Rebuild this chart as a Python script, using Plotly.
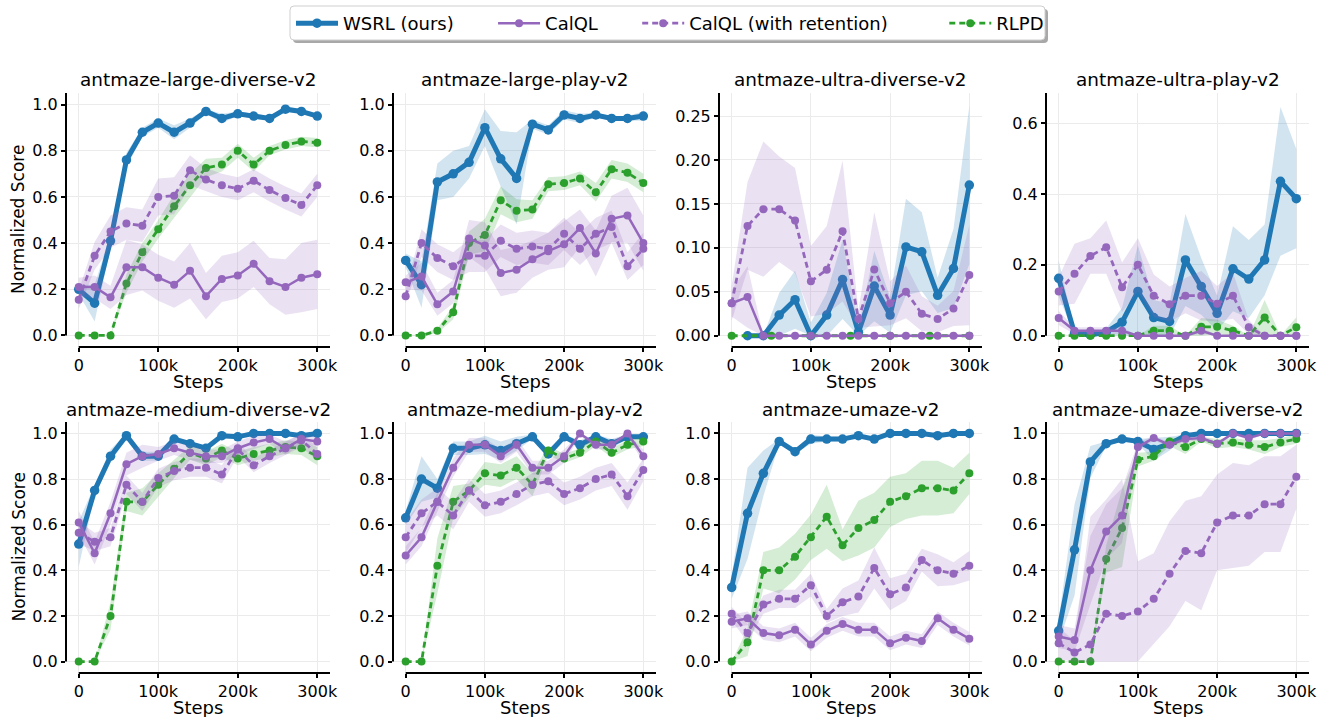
import plotly.graph_objects as go

# ---------------- data ----------------
STEPS = [0, 20000, 40000, 60000, 80000, 100000, 120000, 140000,
         160000, 180000, 200000, 220000, 240000, 260000, 280000, 300000]
RLPD_STEPS_ULTRA_DIVERSE = [0, 50000, 100000, 150000, 200000, 250000, 300000]

ENVS = ["antmaze-large-diverse-v2", "antmaze-large-play-v2",
        "antmaze-ultra-diverse-v2", "antmaze-ultra-play-v2",
        "antmaze-medium-diverse-v2", "antmaze-medium-play-v2",
        "antmaze-umaze-v2", "antmaze-umaze-diverse-v2"]

X_TICKS = [0, 100000, 200000, 300000]
X_TICK_LABELS = ["0", "100k", "200k", "300k"]
Y_TICKS_UNIT = [0.0, 0.2, 0.4, 0.6, 0.8, 1.0]
Y_TICKS_ULTRA_DIVERSE = [0.0, 0.05, 0.10, 0.15, 0.20, 0.25]
Y_TICKS_ULTRA_PLAY = [0.0, 0.2, 0.4, 0.6]

SERIES = ["WSRL (ours)", "CalQL", "CalQL (with retention)", "RLPD"]

# antmaze-large-diverse-v2
large_diverse_wsrl = [0.20, 0.14, 0.41, 0.76, 0.88, 0.92, 0.88, 0.92, 0.97, 0.94, 0.96, 0.95, 0.94, 0.98, 0.97, 0.95]
large_diverse_wsrl_sd = [0.02, 0.08, 0.03, 0.03, 0.02, 0.02, 0.03, 0.02, 0.01, 0.02, 0.01, 0.01, 0.01, 0.01, 0.01, 0.01]
large_diverse_calql = [0.21, 0.21, 0.165, 0.295, 0.295, 0.25, 0.22, 0.28, 0.17, 0.245, 0.26, 0.31, 0.235, 0.21, 0.25, 0.265]
large_diverse_calql_sd = [0.04, 0.05, 0.05, 0.12, 0.10, 0.10, 0.10, 0.12, 0.10, 0.10, 0.10, 0.10, 0.10, 0.12, 0.15, 0.15]
large_diverse_ret = [0.155, 0.345, 0.45, 0.485, 0.475, 0.60, 0.605, 0.715, 0.675, 0.65, 0.635, 0.67, 0.63, 0.595, 0.565, 0.65]
large_diverse_ret_sd = [0.04, 0.06, 0.07, 0.07, 0.07, 0.08, 0.08, 0.065, 0.05, 0.05, 0.05, 0.05, 0.05, 0.05, 0.05, 0.05]
large_diverse_rlpd = [0.0, 0.0, 0.0, 0.225, 0.36, 0.46, 0.56, 0.65, 0.725, 0.74, 0.80, 0.74, 0.80, 0.825, 0.84, 0.835]
large_diverse_rlpd_sd = [0.0, 0.0, 0.0, 0.04, 0.04, 0.04, 0.05, 0.05, 0.04, 0.03, 0.03, 0.03, 0.02, 0.02, 0.02, 0.02]

# antmaze-large-play-v2
large_play_wsrl = [0.325, 0.22, 0.665, 0.70, 0.75, 0.90, 0.765, 0.68, 0.915, 0.89, 0.955, 0.94, 0.955, 0.94, 0.94, 0.95]
large_play_wsrl_sd = [0.03, 0.10, 0.08, 0.10, 0.07, 0.08, 0.12, 0.20, 0.02, 0.02, 0.02, 0.02, 0.01, 0.01, 0.01, 0.02]
large_play_calql = [0.23, 0.255, 0.135, 0.19, 0.42, 0.39, 0.27, 0.285, 0.33, 0.365, 0.395, 0.465, 0.355, 0.505, 0.52, 0.40]
large_play_calql_sd = [0.03, 0.06, 0.05, 0.05, 0.08, 0.10, 0.10, 0.10, 0.08, 0.08, 0.10, 0.08, 0.10, 0.10, 0.12, 0.12]
large_play_ret = [0.17, 0.40, 0.335, 0.30, 0.345, 0.345, 0.41, 0.375, 0.385, 0.375, 0.44, 0.375, 0.44, 0.47, 0.30, 0.375]
large_play_ret_sd = [0.03, 0.06, 0.06, 0.06, 0.07, 0.07, 0.07, 0.07, 0.07, 0.07, 0.07, 0.07, 0.07, 0.07, 0.06, 0.07]
large_play_rlpd = [0.0, 0.0, 0.02, 0.10, 0.40, 0.435, 0.585, 0.54, 0.545, 0.655, 0.66, 0.68, 0.62, 0.72, 0.705, 0.66]
large_play_rlpd_sd = [0.0, 0.005, 0.01, 0.03, 0.05, 0.07, 0.06, 0.05, 0.04, 0.03, 0.03, 0.03, 0.04, 0.04, 0.04, 0.04]

# antmaze-ultra-diverse-v2
ultra_diverse_wsrl = [None, 0.0, 0.0, 0.0235, 0.041, 0.0, 0.0235, 0.064, 0.004, 0.0565, 0.0235, 0.101, 0.0955, 0.046, 0.0765, 0.1715]
ultra_diverse_wsrl_sd = [None, 0.0, 0.0, 0.025, 0.033, 0.015, 0.025, 0.045, 0.005, 0.04, 0.02, 0.055, 0.045, 0.02, 0.045, 0.09]
ultra_diverse_calql = [0.037, 0.044, 0.0, 0.0, 0.0, 0.0, 0.0, 0.0, 0.0, 0.0, 0.0, 0.0, 0.0, 0.0, 0.0, 0.0]
ultra_diverse_calql_sd = [0.015, 0.035, 0.0, 0.0, 0.0, 0.0, 0.0, 0.0, 0.0, 0.0, 0.0, 0.0, 0.0, 0.0, 0.0, 0.0]
ultra_diverse_ret = [0.037, 0.125, 0.144, 0.144, 0.131, 0.062, 0.075, 0.119, 0.019, 0.0755, 0.037, 0.05, 0.025, 0.019, 0.031, 0.069]
ultra_diverse_ret_sd = [0.02, 0.05, 0.077, 0.06, 0.06, 0.04, 0.05, 0.08, 0.01, 0.065, 0.025, 0.03, 0.02, 0.015, 0.02, 0.057]
ultra_diverse_rlpd = [0.0, 0.0, 0.0, 0.0, 0.0, 0.0, 0.0]
ultra_diverse_rlpd_sd = [0.0, 0.0, 0.0, 0.0, 0.0, 0.0, 0.0]

# antmaze-ultra-play-v2
ultra_play_wsrl = [0.162, 0.007, 0.002, 0.01, 0.038, 0.125, 0.051, 0.04, 0.214, 0.139, 0.063, 0.189, 0.16, 0.214, 0.436, 0.387]
ultra_play_wsrl_sd = [0.05, 0.01, 0.005, 0.01, 0.04, 0.13, 0.05, 0.05, 0.13, 0.08, 0.05, 0.12, 0.11, 0.10, 0.21, 0.14]
ultra_play_calql = [0.05, 0.014, 0.014, 0.014, 0.014, 0.0, 0.0, 0.0, 0.0, 0.014, 0.0, 0.0, 0.0, 0.0, 0.0, 0.0]
ultra_play_calql_sd = [0.02, 0.01, 0.01, 0.01, 0.01, 0.0, 0.0, 0.0, 0.0, 0.01, 0.0, 0.0, 0.0, 0.0, 0.0, 0.0]
ultra_play_ret = [0.125, 0.175, 0.225, 0.25, 0.137, 0.20, 0.113, 0.089, 0.113, 0.113, 0.09, 0.113, 0.024, 0.0, 0.0, 0.0]
ultra_play_ret_sd = [0.04, 0.085, 0.05, 0.075, 0.07, 0.075, 0.06, 0.05, 0.05, 0.07, 0.05, 0.065, 0.02, 0.0, 0.0, 0.0]
ultra_play_rlpd = [0.0, 0.0, 0.0, 0.0, 0.0, 0.0, 0.014, 0.014, 0.0, 0.025, 0.025, 0.014, 0.0, 0.051, 0.0, 0.024]
ultra_play_rlpd_sd = [0.0, 0.0, 0.0, 0.0, 0.0, 0.0, 0.014, 0.014, 0.0, 0.025, 0.02, 0.014, 0.0, 0.05, 0.0, 0.028]

# antmaze-medium-diverse-v2
medium_diverse_wsrl = [0.515, 0.75, 0.90, 0.99, 0.90, 0.90, 0.975, 0.955, 0.935, 0.99, 0.985, 1.0, 1.0, 1.0, 0.99, 1.0]
medium_diverse_wsrl_sd = [0.10, 0.02, 0.03, 0.01, 0.02, 0.02, 0.01, 0.01, 0.01, 0.01, 0.01, 0.005, 0.005, 0.005, 0.01, 0.005]
medium_diverse_calql = [0.61, 0.475, 0.65, 0.865, 0.90, 0.91, 0.935, 0.915, 0.90, 0.90, 0.935, 0.96, 0.975, 0.935, 0.975, 0.965]
medium_diverse_calql_sd = [0.05, 0.05, 0.05, 0.05, 0.05, 0.03, 0.03, 0.03, 0.03, 0.03, 0.03, 0.03, 0.02, 0.03, 0.02, 0.02]
medium_diverse_ret = [0.565, 0.525, 0.545, 0.775, 0.70, 0.805, 0.835, 0.85, 0.85, 0.82, 0.93, 0.86, 0.90, 0.935, 0.97, 0.91]
medium_diverse_ret_sd = [0.05, 0.04, 0.04, 0.04, 0.04, 0.04, 0.04, 0.04, 0.04, 0.04, 0.03, 0.03, 0.03, 0.03, 0.03, 0.03]
medium_diverse_rlpd = [0.0, 0.0, 0.20, 0.70, 0.70, 0.775, 0.845, 0.915, 0.89, 0.925, 0.89, 0.91, 0.925, 0.94, 0.935, 0.90]
medium_diverse_rlpd_sd = [0.0, 0.0, 0.06, 0.04, 0.06, 0.05, 0.04, 0.03, 0.03, 0.03, 0.03, 0.03, 0.03, 0.03, 0.03, 0.04]

# antmaze-medium-play-v2
medium_play_wsrl = [0.63, 0.80, 0.76, 0.935, 0.935, 0.95, 0.925, 0.955, 0.985, 0.91, 0.985, 0.95, 0.985, 0.955, 0.985, 0.985]
medium_play_wsrl_sd = [0.03, 0.10, 0.04, 0.03, 0.03, 0.04, 0.04, 0.03, 0.01, 0.02, 0.01, 0.02, 0.01, 0.02, 0.01, 0.01]
medium_play_calql = [0.465, 0.545, 0.70, 0.85, 0.95, 0.95, 0.90, 0.95, 0.85, 0.85, 0.90, 1.0, 0.95, 0.95, 1.0, 0.90]
medium_play_calql_sd = [0.04, 0.04, 0.04, 0.04, 0.03, 0.03, 0.03, 0.03, 0.03, 0.03, 0.03, 0.01, 0.02, 0.02, 0.01, 0.03]
medium_play_ret = [0.545, 0.65, 0.70, 0.64, 0.75, 0.685, 0.70, 0.735, 0.775, 0.79, 0.735, 0.76, 0.80, 0.82, 0.725, 0.84]
medium_play_ret_sd = [0.07, 0.06, 0.06, 0.06, 0.05, 0.05, 0.05, 0.05, 0.05, 0.05, 0.05, 0.05, 0.05, 0.05, 0.06, 0.05]
medium_play_rlpd = [0.0, 0.0, 0.42, 0.70, 0.75, 0.825, 0.815, 0.85, 0.775, 0.925, 0.89, 0.915, 0.965, 0.915, 0.95, 0.965]
medium_play_rlpd_sd = [0.0, 0.0, 0.12, 0.07, 0.03, 0.05, 0.05, 0.05, 0.05, 0.02, 0.02, 0.02, 0.02, 0.02, 0.02, 0.02]

# antmaze-umaze-v2
umaze_wsrl = [0.325, 0.65, 0.825, 0.965, 0.92, 0.975, 0.975, 0.975, 0.99, 0.975, 1.0, 1.0, 1.0, 0.99, 1.0, 1.0]
umaze_wsrl_sd = [0.05, 0.20, 0.10, 0.01, 0.01, 0.02, 0.01, 0.01, 0.005, 0.01, 0.005, 0.005, 0.005, 0.005, 0.005, 0.005]
umaze_calql = [0.175, 0.19, 0.125, 0.115, 0.14, 0.075, 0.135, 0.165, 0.14, 0.14, 0.08, 0.105, 0.09, 0.19, 0.14, 0.10]
umaze_calql_sd = [0.03, 0.03, 0.03, 0.03, 0.03, 0.03, 0.03, 0.03, 0.03, 0.03, 0.03, 0.03, 0.03, 0.03, 0.03, 0.03]
umaze_ret = [0.21, 0.125, 0.25, 0.275, 0.275, 0.335, 0.20, 0.26, 0.285, 0.41, 0.295, 0.325, 0.445, 0.40, 0.385, 0.42]
umaze_ret_sd = [0.03, 0.04, 0.04, 0.04, 0.04, 0.05, 0.03, 0.06, 0.07, 0.09, 0.07, 0.06, 0.05, 0.07, 0.05, 0.065]
umaze_rlpd = [0.0, 0.085, 0.40, 0.40, 0.46, 0.545, 0.635, 0.51, 0.585, 0.62, 0.70, 0.725, 0.76, 0.76, 0.75, 0.825]
umaze_rlpd_sd = [0.0, 0.06, 0.08, 0.10, 0.10, 0.10, 0.14, 0.07, 0.12, 0.12, 0.11, 0.10, 0.12, 0.12, 0.10, 0.09]

# antmaze-umaze-diverse-v2
umaze_diverse_wsrl = [0.135, 0.49, 0.875, 0.955, 0.975, 0.965, 0.93, 0.955, 0.99, 1.0, 1.0, 1.0, 1.0, 1.0, 1.0, 1.0]
umaze_diverse_wsrl_sd = [0.05, 0.20, 0.07, 0.01, 0.01, 0.01, 0.05, 0.03, 0.005, 0.005, 0.005, 0.005, 0.005, 0.005, 0.005, 0.005]
umaze_diverse_calql = [0.11, 0.095, 0.40, 0.57, 0.64, 0.94, 0.98, 0.95, 0.975, 0.98, 0.955, 1.0, 0.98, 1.0, 1.0, 1.0]
umaze_diverse_calql_sd = [0.05, 0.05, 0.15, 0.12, 0.12, 0.02, 0.01, 0.01, 0.01, 0.01, 0.01, 0.005, 0.01, 0.005, 0.005, 0.005]
umaze_diverse_ret = [0.08, 0.04, 0.075, 0.21, 0.20, 0.22, 0.275, 0.385, 0.485, 0.475, 0.61, 0.64, 0.64, 0.69, 0.69, 0.81]
umaze_diverse_ret_sd = [0.07, 0.05, 0.56, 0.50, 0.60, 0.22, 0.20, 0.23, 0.22, 0.25, 0.21, 0.23, 0.22, 0.21, 0.21, 0.14]
umaze_diverse_rlpd = [0.0, 0.0, 0.0, 0.45, 0.585, 0.885, 0.90, 0.965, 0.94, 0.975, 0.955, 0.96, 0.95, 0.94, 0.96, 0.975]
umaze_diverse_rlpd_sd = [0.0, 0.0, 0.0, 0.06, 0.17, 0.03, 0.02, 0.02, 0.03, 0.01, 0.02, 0.02, 0.02, 0.03, 0.02, 0.02]

# ---------------- assembly ----------------
DATA = {
    "antmaze-large-diverse-v2": [(STEPS, large_diverse_wsrl, large_diverse_wsrl_sd), (STEPS, large_diverse_calql, large_diverse_calql_sd),
                                 (STEPS, large_diverse_ret, large_diverse_ret_sd), (STEPS, large_diverse_rlpd, large_diverse_rlpd_sd)],
    "antmaze-large-play-v2": [(STEPS, large_play_wsrl, large_play_wsrl_sd), (STEPS, large_play_calql, large_play_calql_sd),
                              (STEPS, large_play_ret, large_play_ret_sd), (STEPS, large_play_rlpd, large_play_rlpd_sd)],
    "antmaze-ultra-diverse-v2": [(STEPS, ultra_diverse_wsrl, ultra_diverse_wsrl_sd), (STEPS, ultra_diverse_calql, ultra_diverse_calql_sd),
                                 (STEPS, ultra_diverse_ret, ultra_diverse_ret_sd), (RLPD_STEPS_ULTRA_DIVERSE, ultra_diverse_rlpd, ultra_diverse_rlpd_sd)],
    "antmaze-ultra-play-v2": [(STEPS, ultra_play_wsrl, ultra_play_wsrl_sd), (STEPS, ultra_play_calql, ultra_play_calql_sd),
                              (STEPS, ultra_play_ret, ultra_play_ret_sd), (STEPS, ultra_play_rlpd, ultra_play_rlpd_sd)],
    "antmaze-medium-diverse-v2": [(STEPS, medium_diverse_wsrl, medium_diverse_wsrl_sd), (STEPS, medium_diverse_calql, medium_diverse_calql_sd),
                                  (STEPS, medium_diverse_ret, medium_diverse_ret_sd), (STEPS, medium_diverse_rlpd, medium_diverse_rlpd_sd)],
    "antmaze-medium-play-v2": [(STEPS, medium_play_wsrl, medium_play_wsrl_sd), (STEPS, medium_play_calql, medium_play_calql_sd),
                               (STEPS, medium_play_ret, medium_play_ret_sd), (STEPS, medium_play_rlpd, medium_play_rlpd_sd)],
    "antmaze-umaze-v2": [(STEPS, umaze_wsrl, umaze_wsrl_sd), (STEPS, umaze_calql, umaze_calql_sd),
                         (STEPS, umaze_ret, umaze_ret_sd), (STEPS, umaze_rlpd, umaze_rlpd_sd)],
    "antmaze-umaze-diverse-v2": [(STEPS, umaze_diverse_wsrl, umaze_diverse_wsrl_sd), (STEPS, umaze_diverse_calql, umaze_diverse_calql_sd),
                                 (STEPS, umaze_diverse_ret, umaze_diverse_ret_sd), (STEPS, umaze_diverse_rlpd, umaze_diverse_rlpd_sd)],
}

STYLE = {
    "WSRL (ours)": dict(color="#1f77b4", fill="rgba(31,119,180,0.2)", width=5, dash="solid", msize=9.5),
    "CalQL": dict(color="#9467bd", fill="rgba(148,103,189,0.2)", width=2.5, dash="solid", msize=8),
    "CalQL (with retention)": dict(color="#9467bd", fill="rgba(148,103,189,0.2)", width=2.8, dash="6px,4px", msize=8),
    "RLPD": dict(color="#2ca02c", fill="rgba(44,160,44,0.2)", width=2.8, dash="6px,4px", msize=8),
}
# trailing spacing after each legend label (matplotlib-like column spacing)
LEGEND_PADS = [6, 6, 9, 0]
DRAW_ORDER = [0, 3, 2, 1]   # WSRL, RLPD, CalQL (ret), CalQL

W, H = 1319, 717
COL_PX = [(66, 330), (393, 656), (719, 982), (1046, 1309)]
ROW_PX = [(93, 347), (422, 673)]
LEGEND_BOX_PX = (290, 6, 1045, 40)
X_RANGE = [-16000, 316000]
Y_RANGES = {
    "antmaze-ultra-diverse-v2": ([-0.0128, 0.2762], Y_TICKS_ULTRA_DIVERSE, ".2f"),
    "antmaze-ultra-play-v2": ([-0.032, 0.6855], Y_TICKS_ULTRA_PLAY, ".1f"),
}
FONT = "DejaVu Sans"

fig = go.Figure()
layout = {}
shapes = []
annotations = []

# legend entries (legend-only traces, in legend order)
for k, name in enumerate(SERIES):
    st = STYLE[name]
    fig.add_trace(go.Scatter(
        x=[None], y=[None], mode="lines+markers",
        name=name + "\u00a0" * LEGEND_PADS[k],
        line=dict(color=st["color"], width=st["width"], dash=st["dash"]),
        marker=dict(color=st["color"], size=st["msize"]), showlegend=True))

for i, env in enumerate(ENVS):
    r, c = divmod(i, 4)
    n = i + 1
    xa = "x" if n == 1 else f"x{n}"
    ya = "y" if n == 1 else f"y{n}"
    for k in DRAW_ORDER:
        name = SERIES[k]
        st = STYLE[name]
        xs_all, m_all, s_all = DATA[env][k]
        pts = [(x, m, s) for x, m, s in zip(xs_all, m_all, s_all) if m is not None]
        xs = [p[0] for p in pts]
        ms = [p[1] for p in pts]
        lo = [max(0.0, p[1] - p[2]) for p in pts]
        hi = [min(1.0, p[1] + p[2]) for p in pts]
        fig.add_trace(go.Scatter(
            x=xs + xs[::-1], y=hi + lo[::-1], fill="toself", fillcolor=st["fill"],
            line=dict(width=0), mode="lines", hoverinfo="skip", showlegend=False,
            xaxis=xa, yaxis=ya))
        fig.add_trace(go.Scatter(
            x=xs, y=ms, mode="lines+markers", name=name,
            line=dict(color=st["color"], width=st["width"], dash=st["dash"]),
            marker=dict(color=st["color"], size=st["msize"]),
            showlegend=False, xaxis=xa, yaxis=ya))

    x0, x1 = COL_PX[c]
    y0, y1 = ROW_PX[r]
    yr, yt, yfmt = Y_RANGES.get(env, ([-0.05, 1.05], Y_TICKS_UNIT, ".1f"))
    key_x = "xaxis" if n == 1 else f"xaxis{n}"
    key_y = "yaxis" if n == 1 else f"yaxis{n}"
    layout[key_x] = dict(
        domain=[x0 / W, x1 / W], range=X_RANGE, anchor=ya,
        tickvals=X_TICKS, ticktext=X_TICK_LABELS,
        showgrid=True, gridcolor="#ebebeb", gridwidth=1, zeroline=False, showline=False,
        ticks="outside", ticklen=4, tickwidth=1.5, tickcolor="#000",
        tickfont=dict(size=16, color="#000", family=FONT), automargin=False)
    layout[key_y] = dict(
        domain=[1 - y1 / H, 1 - y0 / H], range=yr, anchor=xa,
        tickvals=yt, tickformat=yfmt,
        showgrid=True, gridcolor="#ebebeb", gridwidth=1, zeroline=False, showline=False,
        ticks="outside", ticklen=4, tickwidth=1.5, tickcolor="#000",
        tickfont=dict(size=16, color="#000", family=FONT), automargin=False)
    # trimmed spines
    shapes.append(dict(type="line", xref=f"{xa} domain", yref=ya, x0=0, x1=0, y0=0, y1=yr[1],
                       line=dict(color="#000", width=2)))
    shapes.append(dict(type="line", xref=xa, yref=f"{ya} domain", x0=0, x1=X_RANGE[1], y0=0, y1=0,
                       line=dict(color="#000", width=2)))
    # subplot title
    annotations.append(dict(text=env, x=(x0 + x1) / 2 / W, y=1 - (y0 - 13) / H, xref="paper", yref="paper",
                            showarrow=False, xanchor="center", yanchor="middle",
                            font=dict(size=18.4, color="#000", family=FONT)))
    annotations.append(dict(text="Steps", x=(x0 + x1) / 2 / W, y=1 - (y1 + 34) / H, xref="paper", yref="paper",
                            showarrow=False, xanchor="center", yanchor="middle",
                            font=dict(size=18, color="#000", family=FONT)))
    if c == 0:
        annotations.append(dict(text="Normalized Score", x=18 / W, y=1 - ((y0 + y1) / 2) / H, xref="paper", yref="paper",
                                showarrow=False, xanchor="center", yanchor="middle", textangle=-90,
                                font=dict(size=17, color="#000", family=FONT)))


def rounded_box(px0, py0, px1, py1, rad):
    fx = lambda v: v / W
    fy = lambda v: 1 - v / H
    return (f"M {fx(px0 + rad)},{fy(py0)} L {fx(px1 - rad)},{fy(py0)} "
            f"Q {fx(px1)},{fy(py0)} {fx(px1)},{fy(py0 + rad)} L {fx(px1)},{fy(py1 - rad)} "
            f"Q {fx(px1)},{fy(py1)} {fx(px1 - rad)},{fy(py1)} L {fx(px0 + rad)},{fy(py1)} "
            f"Q {fx(px0)},{fy(py1)} {fx(px0)},{fy(py1 - rad)} L {fx(px0)},{fy(py0 + rad)} "
            f"Q {fx(px0)},{fy(py0)} {fx(px0 + rad)},{fy(py0)} Z")


# legend frame with shadow (matplotlib fancybox style)
lx0, ly0, lx1, ly1 = LEGEND_BOX_PX
shapes.append(dict(type="path", xref="paper", yref="paper", layer="above",
                   path=rounded_box(lx0 + 3, ly0 + 3, lx1 + 3, ly1 + 3, 4),
                   fillcolor="#a8a8a8", line=dict(width=0)))
shapes.append(dict(type="path", xref="paper", yref="paper", layer="above",
                   path=rounded_box(lx0, ly0, lx1, ly1, 4),
                   fillcolor="white", line=dict(color="#cfcfcf", width=1)))

fig.update_layout(
    width=W, height=H, margin=dict(l=0, r=0, t=0, b=0),
    paper_bgcolor="white", plot_bgcolor="white",
    font=dict(family=FONT, color="#000"),
    shapes=shapes, annotations=annotations,
    legend=dict(orientation="h", x=291 / W, y=1 - 5 / H, xanchor="left", yanchor="top",
                font=dict(size=18, family=FONT, color="#000"), bgcolor="rgba(0,0,0,0)",
                borderwidth=0, traceorder="normal", itemwidth=42),
    **layout)

fig.write_html("out.html", config={"displayModeBar": False},
               post_script="document.body.style.margin='0px';")
